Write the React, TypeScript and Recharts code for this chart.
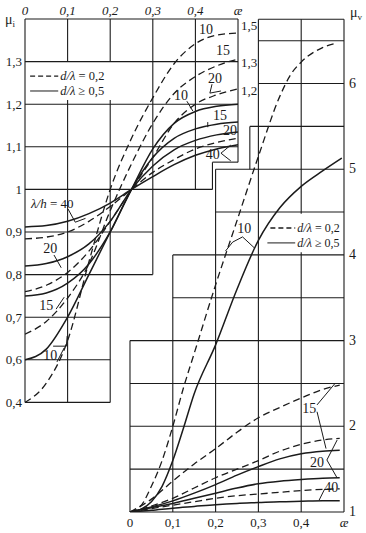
import React from "react";
import { LineChart, Line, XAxis, YAxis, ReferenceLine, ReferenceDot } from "recharts";

const INK = "#1b1b1b";
const SERIF = '"Liberation Serif", "Times New Roman", "DejaVu Serif", serif';

// left panel: mu_i against ae, for lambda/h = 10, 15, 20, 40
const leftX = [0, 0.05, 0.1, 0.15, 0.2, 0.25, 0.3, 0.35, 0.4, 0.45, 0.5];
const muIDash10 = [0.5, 0.545, 0.645, 0.83, 1.0, 1.12, 1.215, 1.295, 1.342, 1.362, 1.367];
const muIDash15 = [0.66, 0.69, 0.745, 0.825, 0.95, 1.06, 1.155, 1.225, 1.265, 1.29, 1.306];
const muIDash20 = [0.76, 0.775, 0.805, 0.855, 0.925, 1.0, 1.075, 1.155, 1.2, 1.222, 1.236];
const muIDash40 = [0.884, 0.888, 0.9, 0.925, 0.96, 1.0, 1.04, 1.07, 1.095, 1.11, 1.12];
const muISolid10 = [0.6, 0.625, 0.7, 0.8, 0.9, 1.0, 1.095, 1.155, 1.183, 1.195, 1.2];
const muISolid15 = [0.75, 0.757, 0.78, 0.825, 0.9, 1.0, 1.075, 1.12, 1.142, 1.153, 1.158];
const muISolid20 = [0.82, 0.826, 0.842, 0.872, 0.925, 1.0, 1.055, 1.093, 1.115, 1.128, 1.135];
const muISolid40 = [0.912, 0.915, 0.925, 0.943, 0.968, 1.0, 1.03, 1.058, 1.08, 1.095, 1.105];

// right panel: mu_v against ae
const rightX = [0, 0.05, 0.1, 0.15, 0.2, 0.25, 0.3, 0.35, 0.4, 0.45, 0.49];
const rightXDash10 = [0, 0.025, 0.05, 0.075, 0.1, 0.125, 0.15, 0.2, 0.25, 0.3, 0.35, 0.375, 0.4, 0.45, 0.48];
const muVDash10 = [1, 1.07, 1.3, 1.6, 2.0, 2.45, 2.85, 3.65, 4.4, 5.15, 5.85, 6.1, 6.25, 6.42, 6.47];
const rightXSolid10 = [0, 0.025, 0.05, 0.075, 0.1, 0.125, 0.15, 0.2, 0.25, 0.3, 0.35, 0.4, 0.45, 0.495];
const muVSolid10 = [1, 1.03, 1.12, 1.3, 1.6, 1.98, 2.38, 2.95, 3.6, 4.17, 4.55, 4.8, 4.98, 5.13];
const muVDash15 = [1, 1.15, 1.36, 1.56, 1.74, 1.93, 2.1, 2.22, 2.33, 2.43, 2.48];
const muVDash20 = [1, 1.07, 1.16, 1.28, 1.4, 1.5, 1.6, 1.71, 1.79, 1.84, 1.86];
const muVSolid15 = [1, 1.06, 1.13, 1.22, 1.32, 1.43, 1.53, 1.62, 1.68, 1.71, 1.72];
const muVSolid20 = [1, 1.05, 1.1, 1.16, 1.22, 1.28, 1.33, 1.36, 1.38, 1.395, 1.4];
const muVDash40 = [1, 1.04, 1.08, 1.12, 1.16, 1.19, 1.21, 1.23, 1.25, 1.265, 1.27];
const muVSolid40 = [1, 1.02, 1.045, 1.065, 1.085, 1.1, 1.11, 1.12, 1.125, 1.13, 1.13];

// tick labels
const xTicks = [0, 0.1, 0.2, 0.3, 0.4, 0.5];
const xTickLabels = ["0", "0,1", "0,2", "0,3", "0,4", "æ"];
const leftYTicks = [0.5, 0.6, 0.7, 0.8, 0.9, 1.0, 1.1, 1.2, 1.3, 1.4];
const leftYLabels = ["0,4", "0,6", "0,7", "0,8", "0,9", "1", "1,1", "1,2", "1,3", "μ"];
const rightYTicks = [1, 2, 3, 4, 5, 6, 6.75];
const rightYLabels = ["1", "2", "3", "4", "5", "6", "μ"];

// the two panels share one plot area, each with its own axes
const leftXDomain = [0, 0.7488];
const leftYDomain = [0.2427, 1.4];
const rightXDomain = [-0.2453, 0.5];
const rightYDomain = [1, 6.753];

// staircase grids: [at, from, to]
const leftGridV = [
  [0, 0.5, 1.4], [0.1, 0.5, 1.21], [0.1, 1.3, 1.4], [0.2, 0.5, 1.21], [0.2, 1.3, 1.4],
  [0.3, 0.8, 1.4], [0.4, 1.0, 1.4], [0.5, 1.064, 1.4], [0.44, 1.0, 1.064],
];
const leftGridH = [
  [1.4, 0, 0.5], [1.3, 0, 0.5], [1.2, 0, 0.5], [1.1, 0, 0.5], [1.064, 0.44, 0.5],
  [1.0, 0, 0.44], [0.9, 0, 0.3], [0.8, 0, 0.3], [0.7, 0, 0.2], [0.6, 0, 0.2], [0.5, 0, 0.2],
];
const rightGridV = [
  [0, 1, 3], [0.1, 1, 4], [0.2, 1, 5], [0.28, 5, 5.5], [0.3, 1, 6.75],
  [0.4, 1, 4.03], [0.4, 4.48, 6.75], [0.5, 1, 6.75],
];
const rightGridH = [
  [6.75, 0.3, 0.5], [6.5, 0.3, 0.5], [6.0, 0.3, 0.5], [5.5, 0.28, 0.5], [5.0, 0.2, 0.5],
  [4.5, 0.2, 0.5], [4.0, 0.1, 0.5], [3.5, 0.1, 0.5], [3.0, 0, 0.5], [2.5, 0, 0.5],
  [2.0, 0, 0.5], [1.5, 0, 0.5], [1.0, 0, 0.5],
];

const zip = (xs: number[], ys: number[]) => xs.map((x, i) => ({ x, y: ys[i] }));

const series = [
  { id: "iD10", p: "L", dash: true, data: zip(leftX, muIDash10) },
  { id: "iD15", p: "L", dash: true, data: zip(leftX, muIDash15) },
  { id: "iD20", p: "L", dash: true, data: zip(leftX, muIDash20) },
  { id: "iD40", p: "L", dash: true, data: zip(leftX, muIDash40) },
  { id: "iS10", p: "L", dash: false, data: zip(leftX, muISolid10) },
  { id: "iS15", p: "L", dash: false, data: zip(leftX, muISolid15) },
  { id: "iS20", p: "L", dash: false, data: zip(leftX, muISolid20) },
  { id: "iS40", p: "L", dash: false, data: zip(leftX, muISolid40) },
  { id: "vD10", p: "R", dash: true, data: zip(rightXDash10, muVDash10) },
  { id: "vS10", p: "R", dash: false, data: zip(rightXSolid10, muVSolid10) },
  { id: "vD15", p: "R", dash: true, data: zip(rightX, muVDash15) },
  { id: "vD20", p: "R", dash: true, data: zip(rightX, muVDash20) },
  { id: "vS15", p: "R", dash: false, data: zip(rightX, muVSolid15) },
  { id: "vS20", p: "R", dash: false, data: zip(rightX, muVSolid20) },
  { id: "vD40", p: "R", dash: true, data: zip(rightX, muVDash40) },
  { id: "vS40", p: "R", dash: false, data: zip(rightX, muVSolid40) },
];

// curve labels and legends, in panel units
type Note = { p: string; x: number; y: number; t: string; a?: string; s?: number };
const notes: Note[] = [
  { p: "L", x: 0.425, y: 1.376, t: "10" },
  { p: "L", x: 0.465, y: 1.327, t: "15" },
  { p: "L", x: 0.446, y: 1.261, t: "20" },
  { p: "L", x: 0.366, y: 1.222, t: "10" },
  { p: "L", x: 0.458, y: 1.175, t: "15" },
  { p: "L", x: 0.481, y: 1.139, t: "20" },
  { p: "L", x: 0.441, y: 1.083, t: "40" },
  { p: "L", x: 0.064, y: 0.968, t: "lh40", s: 13 },
  { p: "L", x: 0.059, y: 0.862, t: "20" },
  { p: "L", x: 0.05, y: 0.729, t: "15" },
  { p: "L", x: 0.059, y: 0.611, t: "10" },
  { p: "L", x: 0.507, y: 1.386, t: "1,5", a: "start", s: 13 },
  { p: "L", x: 0.507, y: 1.299, t: "1,3", a: "start", s: 13 },
  { p: "L", x: 0.507, y: 1.233, t: "1,2", a: "start", s: 13 },
  { p: "L", x: 0.083, y: 1.266, t: "leg02", a: "start", s: 12.5 },
  { p: "L", x: 0.083, y: 1.231, t: "leg05", a: "start", s: 12.5 },
  { p: "R", x: 0.267, y: 4.314, t: "10" },
  { p: "R", x: 0.391, y: 4.314, t: "leg02", a: "start", s: 12 },
  { p: "R", x: 0.391, y: 4.14, t: "leg05", a: "start", s: 12 },
  { p: "R", x: 0.419, y: 2.214, t: "15" },
  { p: "R", x: 0.437, y: 1.583, t: "20" },
  { p: "R", x: 0.47, y: 1.292, t: "40" },
];

// leader lines and legend swatches: polylines in panel units
const leaders: { p: string; dash?: boolean; pts: number[][] }[] = [
  { p: "L", pts: [[0.439, 1.247], [0.434, 1.226], [0.46, 1.231]] },
  { p: "L", pts: [[0.38, 1.207], [0.394, 1.184]] },
  { p: "L", pts: [[0.429, 1.158], [0.429, 1.146]] },
  { p: "L", pts: [[0.483, 1.104], [0.46, 1.085], [0.483, 1.067]] },
  { p: "L", pts: [[0.101, 0.954], [0.118, 0.923], [0.142, 0.932]] },
  { p: "L", pts: [[0.068, 0.846], [0.085, 0.816]] },
  { p: "L", pts: [[0.073, 0.719], [0.092, 0.747]] },
  { p: "L", pts: [[0.075, 0.595], [0.092, 0.628]] },
  { p: "L", pts: [[0.066, 0.632], [0.097, 0.632], [0.099, 0.656]] },
  { p: "L", dash: true, pts: [[0.012, 1.266], [0.078, 1.266]] },
  { p: "L", pts: [[0.012, 1.231], [0.078, 1.231]] },
  { p: "R", pts: [[0.223, 4.045], [0.24, 4.15], [0.263, 4.21], [0.291, 4.08]] },
  { p: "R", dash: true, pts: [[0.328, 4.314], [0.386, 4.314]] },
  { p: "R", pts: [[0.321, 4.14], [0.386, 4.14]] },
  { p: "R", pts: [[0.437, 2.25], [0.479, 2.5]] },
  { p: "R", pts: [[0.437, 2.17], [0.458, 1.74]] },
  { p: "R", pts: [[0.484, 1.84], [0.46, 1.607], [0.484, 1.397]] },
  { p: "R", pts: [[0.442, 1.14], [0.455, 1.27]] },
];

const txt = { fill: INK, style: { fontFamily: SERIF } };

function noteText(n: Note, cx: number, cy: number) {
  const size = n.s || 14;
  let body: React.ReactNode = n.t;
  if (n.t === "lh40") {
    body = (
      <>
        <tspan fontStyle="italic">λ/h</tspan> = 40
      </>
    );
  } else if (n.t === "leg02") {
    body = (
      <>
        <tspan fontStyle="italic">d/λ</tspan> = 0,2
      </>
    );
  } else if (n.t === "leg05") {
    body = (
      <>
        <tspan fontStyle="italic">d/λ</tspan> ≥ 0,5
      </>
    );
  }
  return (
    <text x={cx} y={cy} dy="0.35em" textAnchor={n.a || "middle"} fontSize={size} {...txt}>
      {body}
    </text>
  );
}

const topTick = (p: any) => {
  const i = xTicks.indexOf(p.payload.value);
  return (
    <text x={p.x} y={p.y} textAnchor="middle" fontSize={13} fontStyle="italic" {...txt}>
      {xTickLabels[i]}
    </text>
  );
};

const bottomTick = (p: any) => {
  const i = xTicks.indexOf(p.payload.value);
  const last = i === xTicks.length - 1;
  return (
    <text x={p.x} y={p.y} dy={9} textAnchor="middle" fontSize={13} fontStyle={last ? "italic" : "normal"} {...txt}>
      {xTickLabels[i]}
    </text>
  );
};

const leftYTick = (p: any) => {
  const i = leftYTicks.indexOf(p.payload.value);
  if (i === leftYTicks.length - 1) {
    return (
      <text x={p.x - 7} y={p.y + 5} textAnchor="end" fontSize={14} {...txt}>
        {leftYLabels[i]}
        <tspan fontSize={9} dy={3}>i</tspan>
      </text>
    );
  }
  return (
    <text x={p.x} y={p.y} dy={4.5} textAnchor="end" fontSize={13} {...txt}>
      {leftYLabels[i]}
    </text>
  );
};

const rightYTick = (p: any) => {
  const i = rightYTicks.indexOf(p.payload.value);
  if (i === rightYTicks.length - 1) {
    return (
      <text x={p.x + 1} y={p.y - 2} textAnchor="start" fontSize={14} {...txt}>
        {rightYLabels[i]}
        <tspan fontSize={9} dy={3}>v</tspan>
      </text>
    );
  }
  return (
    <text x={p.x} y={p.y} dy={4} textAnchor="start" fontSize={14} {...txt}>
      {rightYLabels[i]}
    </text>
  );
};

export default function App() {
  const grid: React.ReactNode[] = [];
  leftGridV.forEach(([x, a, b], i) =>
    grid.push(<ReferenceLine key={`lv${i}`} xAxisId="L" yAxisId="L" segment={[{ x, y: a }, { x, y: b }]} stroke={INK} strokeWidth={1.1} />)
  );
  leftGridH.forEach(([y, a, b], i) =>
    grid.push(<ReferenceLine key={`lh${i}`} xAxisId="L" yAxisId="L" segment={[{ x: a, y }, { x: b, y }]} stroke={INK} strokeWidth={1.1} />)
  );
  rightGridV.forEach(([x, a, b], i) =>
    grid.push(<ReferenceLine key={`rv${i}`} xAxisId="R" yAxisId="R" segment={[{ x, y: a }, { x, y: b }]} stroke={INK} strokeWidth={1.1} />)
  );
  rightGridH.forEach(([y, a, b], i) =>
    grid.push(<ReferenceLine key={`rh${i}`} xAxisId="R" yAxisId="R" segment={[{ x: a, y }, { x: b, y }]} stroke={INK} strokeWidth={1.1} />)
  );

  const leaderLines: React.ReactNode[] = [];
  leaders.forEach((l, i) => {
    for (let k = 0; k < l.pts.length - 1; k++) {
      leaderLines.push(
        <ReferenceLine
          key={`ld${i}-${k}`}
          xAxisId={l.p}
          yAxisId={l.p}
          segment={[{ x: l.pts[k][0], y: l.pts[k][1] }, { x: l.pts[k + 1][0], y: l.pts[k + 1][1] }]}
          stroke={INK}
          strokeWidth={l.dash ? 1.3 : 1}
          strokeDasharray={l.dash ? "5 3" : undefined}
        />
      );
    }
  });

  return (
    <div style={{ position: "absolute", left: 0, top: 0, width: 366, height: 533, background: "#fff" }}>
      <LineChart width={366} height={533} margin={{ top: 0, right: 0, bottom: 0, left: 0 }}>
        <XAxis
          xAxisId="L"
          orientation="top"
          type="number"
          dataKey="x"
          domain={leftXDomain}
          allowDataOverflow
          ticks={xTicks}
          interval={0}
          height={19}
          axisLine={false}
          tickLine={false}
          tickSize={0}
          tickMargin={4}
          tick={topTick}
        />
        <XAxis
          xAxisId="R"
          orientation="bottom"
          type="number"
          dataKey="x"
          domain={rightXDomain}
          allowDataOverflow
          ticks={xTicks}
          interval={0}
          height={21}
          axisLine={false}
          tickLine={false}
          tickSize={0}
          tickMargin={6}
          tick={bottomTick}
        />
        <YAxis
          yAxisId="L"
          orientation="left"
          type="number"
          domain={leftYDomain}
          allowDataOverflow
          ticks={leftYTicks}
          interval={0}
          width={25}
          axisLine={false}
          tickLine={false}
          tickSize={0}
          tickMargin={3}
          tick={leftYTick}
        />
        <YAxis
          yAxisId="R"
          orientation="right"
          type="number"
          domain={rightYDomain}
          allowDataOverflow
          ticks={rightYTicks}
          interval={0}
          width={22}
          axisLine={false}
          tickLine={false}
          tickSize={0}
          tickMargin={5}
          tick={rightYTick}
        />
        {grid}
        {series.map((s) => (
          <Line
            key={s.id}
            data={s.data}
            dataKey="y"
            xAxisId={s.p}
            yAxisId={s.p}
            type="monotone"
            stroke={INK}
            strokeWidth={s.dash ? 1.3 : 1.5}
            strokeDasharray={s.dash ? "7 4" : undefined}
            dot={false}
            activeDot={false}
            isAnimationActive={false}
          />
        ))}
        {leaderLines}
        {notes.map((n, i) => (
          <ReferenceDot
            key={`n${i}`}
            xAxisId={n.p}
            yAxisId={n.p}
            x={n.x}
            y={n.y}
            r={1}
            ifOverflow="visible"
            shape={(p: any) => noteText(n, p.cx, p.cy)}
          />
        ))}
      </LineChart>
    </div>
  );
}
